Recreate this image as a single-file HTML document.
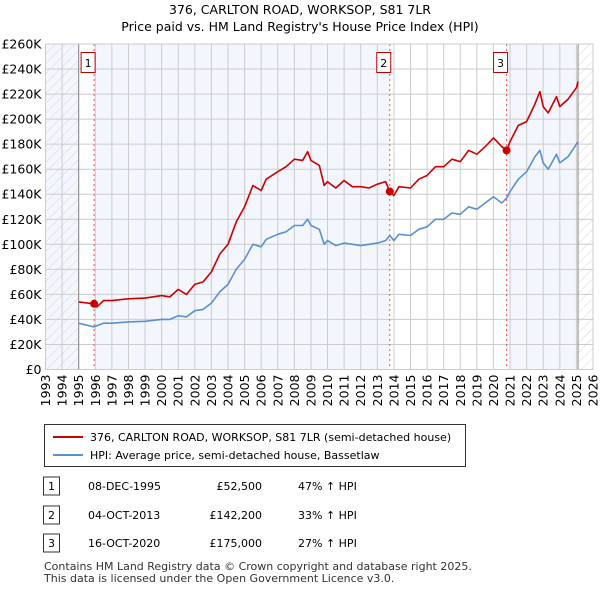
<!DOCTYPE html>
<html><head><meta charset="utf-8"><style>
body{margin:0;background:#fff;font-family:"Liberation Sans","DejaVu Sans",sans-serif;}
svg text{font-family:"DejaVu Sans","Liberation Sans",sans-serif;}
</style></head><body>
<svg id="c" width="600" height="590" viewBox="0 0 600 590">
<defs><pattern id="hatch" width="7" height="7" patternUnits="userSpaceOnUse" patternTransform="rotate(45)"><line x1="0" y1="0" x2="0" y2="7" stroke="#d6d6d6" stroke-width="1"/></pattern></defs>
<text x="300" y="14" text-anchor="middle" font-size="12.5">376, CARLTON ROAD, WORKSOP, S81 7LR</text>
<text x="300" y="31" text-anchor="middle" font-size="12.5">Price paid vs. HM Land Registry's House Price Index (HPI)</text>
<g id="plot"></g>
<g>
<rect x="44.5" y="424.5" width="421" height="42" fill="#fff" stroke="#333"/>
<line x1="53" y1="437" x2="83" y2="437" stroke="#cc0000" stroke-width="2"/>
<text x="90" y="441" font-size="11">376, CARLTON ROAD, WORKSOP, S81 7LR (semi-detached house)</text>
<line x1="53" y1="455" x2="83" y2="455" stroke="#5b8fd0" stroke-width="2"/>
<text x="90" y="459" font-size="11">HPI: Average price, semi-detached house, Bassetlaw</text>
</g>
<g id="tbl" font-size="11"></g>
<text x="44" y="570" font-size="11" fill="#333">Contains HM Land Registry data © Crown copyright and database right 2025.</text>
<text x="44" y="582" font-size="11" fill="#333">This data is licensed under the Open Government Licence v3.0.</text>
</svg>
<script>
const hpiYears=[1995,1995.9,1996.5,1997,1998,1999,2000,2000.5,2001,2001.5,2002,2002.5,2003,2003.5,2004,2004.5,2005,2005.5,2006,2006.3,2007,2007.5,2008,2008.5,2008.8,2009,2009.5,2009.8,2010,2010.5,2011,2011.5,2012,2012.5,2013,2013.5,2013.75,2014,2014.3,2015,2015.5,2016,2016.5,2017,2017.5,2018,2018.5,2019,2019.5,2020,2020.5,2020.8,2021,2021.5,2022,2022.5,2022.8,2023,2023.3,2023.8,2024,2024.5,2025,2025.1];
const hpiValues=[37,34,37,37,38,38.5,40,40,43,42,47,48,53,62,68,80,88,100,98,104,108,110,115,115,120,115,112,100,103,99,101,100,99,100,101,103,107,103,108,107,112,114,120,120,125,124,130,128,133,138,133,137,142,152,158,170,175,165,160,172,165,170,180,182];
const priceYears=[1995,1995.9,1996.1,1996.5,1997,1998,1999,2000,2000.5,2001,2001.5,2002,2002.5,2003,2003.5,2004,2004.5,2005,2005.5,2006,2006.3,2007,2007.5,2008,2008.5,2008.8,2009,2009.5,2009.8,2010,2010.5,2011,2011.5,2012,2012.5,2013,2013.5,2013.75,2014,2014.3,2015,2015.5,2016,2016.5,2017,2017.5,2018,2018.5,2019,2019.5,2020,2020.5,2020.8,2021,2021.5,2022,2022.5,2022.8,2023,2023.3,2023.8,2024,2024.5,2025,2025.1];
const priceValues=[54,52.5,50,55,55,56.5,57,59,58,64,60,68,70,78,92,100,118,130,147,143,152,158,162,168,167,174,167,163,147,150,145,151,146,146,145,148,150,142.2,139,146,145,152,155,162,162,168,166,175,172,178,185,178,175,182,195,198,212,222,210,205,218,210,216,225,230];
const saleYears=[1995.93,2013.75,2020.79];
const saleValues=[52.5,142.2,175];
const saleLabels=["1","2","3"];
const saleDates=["08-DEC-1995","04-OCT-2013","16-OCT-2020"];
const salePrices=["£52,500","£142,200","£175,000"];
const saleHpi=["47% ↑ HPI","33% ↑ HPI","27% ↑ HPI"];
const yTicks=[0,20,40,60,80,100,120,140,160,180,200,220,240,260];
const xTicks=[1993,1994,1995,1996,1997,1998,1999,2000,2001,2002,2003,2004,2005,2006,2007,2008,2009,2010,2011,2012,2013,2014,2015,2016,2017,2018,2019,2020,2021,2022,2023,2024,2025,2026];
const X0=45.5,X1=593,Y0=369.5,Y1=44;
const xs=y=>X0+(y-1993)/(2026-1993)*(X1-X0);
const ys=v=>Y0-v/260*(Y0-Y1);
const NS="http://www.w3.org/2000/svg";
const g=document.getElementById('plot');
function mk(t,a,p){const e=document.createElementNS(NS,t);for(const k in a)e.setAttribute(k,a[k]);(p||g).appendChild(e);return e;}
let r;
r=mk('rect',{x:X0,y:Y1,width:xs(2025.1)-X0,height:Y0-Y1,fill:'#f3f6fd'});


r=mk('rect',{x:xs(1995),y:Y1,width:xs(saleYears[0])-xs(1995),height:Y0-Y1,fill:'#fff'});


r=mk('rect',{x:xs(saleYears[1]),y:Y1,width:xs(saleYears[2])-xs(saleYears[1]),height:Y0-Y1,fill:'#fff'});


r=mk('rect',{x:X0,y:Y1,width:xs(1995)-X0,height:Y0-Y1,fill:'url(#hatch)'});


r=mk('rect',{x:xs(2025.1),y:Y1,width:X1-xs(2025.1),height:Y0-Y1,fill:'url(#hatch)'});


yTicks.forEach(v=>{
 const l=mk('line',{x1:X0,x2:X1,y1:ys(v),y2:ys(v),stroke:'#ccc','stroke-width':1});
 
 
 const t=mk('text',{x:X0-4,y:ys(v)+4.5,'text-anchor':'end','font-size':12.5});
 
 
 t.textContent=v===0?'£0':'£'+v+'K';
});
xTicks.forEach(y=>{
 const l=mk('line',{x1:xs(y),x2:xs(y),y1:Y1,y2:Y0,stroke:'#ccc','stroke-width':1});
 
 
 const t=mk('text',{x:0,y:0,'text-anchor':'end','font-size':12.5,transform:`translate(${xs(y)+4.5},${Y0+5}) rotate(-90)`});
 
 
 t.textContent=y;
});
[1995,2025.1].forEach(y=>{const l=mk('line',{x1:xs(y),x2:xs(y),y1:Y1,y2:Y0,stroke:'#888','stroke-width':1});
 
 });
saleYears.forEach((y,i)=>{
 const l=mk('line',{x1:xs(y),x2:xs(y),y1:Y1,y2:Y0,stroke:'#e55','stroke-width':1,'stroke-dasharray':'2,3'});
 
 
});
function path(xa,va,col,name){
 const d=xa.map((y,i)=>(i?'L':'M')+xs(y).toFixed(1)+','+ys(va[i]).toFixed(1)).join('');
 const p=mk('path',{d:d,fill:'none',stroke:col,'stroke-width':1.6,'stroke-linejoin':'round'});
 
 
}
path(hpiYears,hpiValues,'#5b8fd0','hpi-line');
path(priceYears,priceValues,'#cc0000','price-line');
saleYears.forEach((y,i)=>{
 const c=mk('circle',{cx:xs(y),cy:ys(saleValues[i]),r:4,fill:'#cc0000'});
 
 
 const b=mk('rect',{x:xs(y)-10-3,y:52.5,width:14,height:20,fill:'#fff',stroke:'#b00'});
 
 
 const t=mk('text',{x:xs(y)-6,y:67,'text-anchor':'middle','font-size':11});
 
 
 t.textContent=saleLabels[i];
});
const fr=mk('rect',{x:X0,y:Y1,width:X1-X0,height:Y0-Y1,fill:'none',stroke:'#ccc'});


const tb=document.getElementById('tbl');
const rowY=[488,517,545];
saleYears.forEach((y,i)=>{
 const b=mk('rect',{x:43.5,y:rowY[i]-11,width:16,height:18,fill:'#fff',stroke:'#333'},tb);
 
 
 const cells=[[51.5,saleLabels[i],'middle'],[88,saleDates[i],'start'],[262,salePrices[i],'end'],[298,saleHpi[i],'start']];
 cells.forEach(c=>{const t=mk('text',{x:c[0],y:rowY[i]+2,'text-anchor':c[2]},tb);
  
  
  t.textContent=c[1];});
});
</script>
</body></html>
